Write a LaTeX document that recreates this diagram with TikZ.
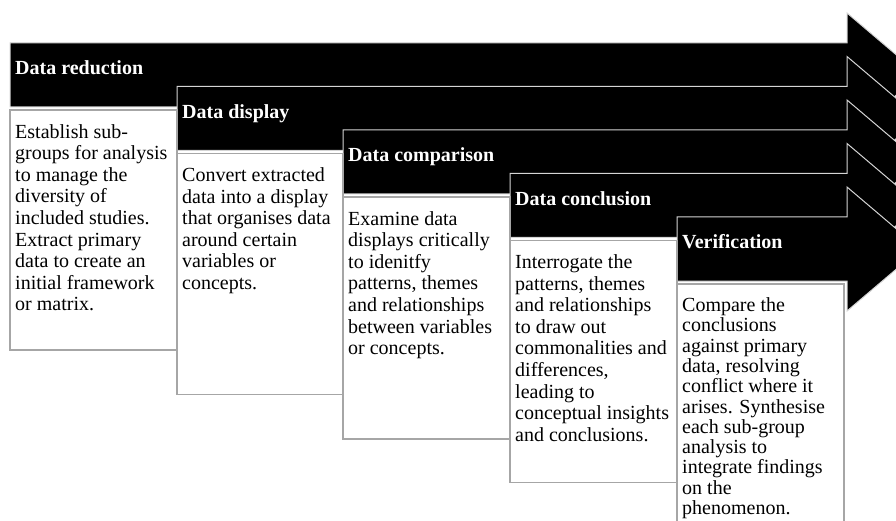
\documentclass[tikz,border=0pt]{standalone}
\usepackage{fontspec}
\setmainfont{Liberation Serif}
\usepackage{tikz}

\definecolor{edgegray}{HTML}{A6A6A6}
\definecolor{rimgray}{HTML}{D4D4D4}

\tikzset{
    arrowshape/.style={fill=black, draw=rimgray, line width=1pt, line join=miter},
    stepbox/.style={fill=white, draw=edgegray, line width=1.4pt},
    steptitle/.style={anchor=base west, inner sep=0pt, text=white, font=\fontsize{20}{21.6}\selectfont\bfseries},
    steptext/.style={anchor=north west, inner sep=0pt, align=left, font=\fontsize{20}{21.6}\selectfont}
}

\begin{document}
\begin{tikzpicture}[x=1pt, y=-1pt]

        \useasboundingbox (0,0) rectangle (896,521);
        \clip (0,0) rectangle (896,521);

            \draw[arrowshape] (10,43) -- (847,43) -- (847,13) -- (920,75) -- (847,137) -- (847,107) -- (10,107) -- cycle;
            \draw[arrowshape] (177,86.5) -- (847,86.5) -- (847,56.5) -- (920,118.5) -- (847,180.5) -- (847,150.5) -- (177,150.5) -- cycle;
            \draw[arrowshape] (343,130) -- (847,130) -- (847,100) -- (920,162) -- (847,224) -- (847,194) -- (343,194) -- cycle;
            \draw[arrowshape] (510,173.5) -- (847,173.5) -- (847,143.5) -- (920,205.5) -- (847,267.5) -- (847,237.5) -- (510,237.5) -- cycle;
            \draw[arrowshape] (677,217) -- (847,217) -- (847,187) -- (920,249) -- (847,311) -- (847,281) -- (677,281) -- cycle;

            \draw[stepbox] (10,110) rectangle (177,350);
            \draw[stepbox] (177,153.5) rectangle (343,394.5);
            \draw[stepbox] (343,197) rectangle (510,439);
            \draw[stepbox] (510,240.5) rectangle (677,482.5);
            \draw[stepbox] (677,284) rectangle (844,540);

            \node[steptitle] (T1) at (15,75) {Data reduction};
            \node[steptitle] (T2) at (182,118.5) {Data display};
            \node[steptitle] (T3) at (348,162) {Data comparison};
            \node[steptitle] (T4) at (515,205.5) {Data conclusion};
            \node[steptitle] (T5) at (682,249) {Verification};

            \node[steptext] (S1) at (15,124) {Establish sub-\\groups for analysis\\to manage the\\diversity of\\included studies.\\Extract primary\\data to create an\\initial framework\\or matrix.};
            \node[steptext] (S2) at (182,167.5) {Convert extracted\\data into a display\\that organises data\\around certain\\variables or\\concepts.};
            \node[steptext] (S3) at (348,211) {Examine data\\displays critically\\to idenitfy\\patterns, themes\\and relationships\\between variables\\or concepts.};
            \node[steptext] (S4) at (515,254.5) {Interrogate the\\patterns, themes\\and relationships\\to draw out\\commonalities and\\differences,\\leading to\\conceptual insights\\and conclusions.};
            \node[steptext, font=\fontsize{20}{20.3}\selectfont] (S5) at (682,297.5) {Compare the\\conclusions\\against primary\\data, resolving\\conflict where it\\arises. Synthesise\\each sub-group\\analysis to\\integrate findings\\on the\\phenomenon.};

\end{tikzpicture}
\end{document}
